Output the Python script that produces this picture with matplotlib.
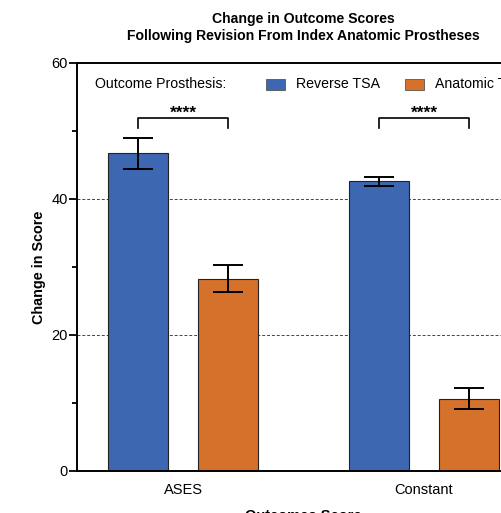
import matplotlib
matplotlib.use("Agg")
import matplotlib.pyplot as plt
from matplotlib.patches import Rectangle

plt.rcParams['font.family'] = ['Liberation Sans', 'DejaVu Sans']

# Data
scores = ["ASES", "Constant"]
series = ["Reverse TSA", "Anatomic TSA"]
reverse_mean = [46.7, 42.6]
reverse_err = [2.3, 0.65]
anatomic_mean = [28.3, 10.6]
anatomic_err = [2.0, 1.55]
significance = ["****", "****"]
yticks = [0, 20, 40, 60]

blue = "#3D67B1"
orange = "#D6712C"

W, H = 502, 513
fig = plt.figure(figsize=(W / 100, H / 100), dpi=100)

def fx(x):
    return x / W

def fy(y):
    return 1 - y / H

ax_left, ax_right, ax_top, ax_bottom = 77, 530, 63, 471
ax = fig.add_axes([fx(ax_left), fy(ax_bottom), (ax_right - ax_left) / W,
                   (ax_bottom - ax_top) / H])

xpos = [0, 1]
width = 0.249
offset = 0.187
xl = [x - offset for x in xpos]
xr = [x + offset for x in xpos]

ax.bar(xl, reverse_mean, width, color=blue, edgecolor="#222222", linewidth=0.8, zorder=2)
ax.bar(xr, anatomic_mean, width, color=orange, edgecolor="#222222", linewidth=0.8, zorder=2)
ax.errorbar(xl, reverse_mean, yerr=reverse_err, fmt="none", ecolor="black",
            elinewidth=1.4, capsize=11, capthick=1.4, zorder=3)
ax.errorbar(xr, anatomic_mean, yerr=anatomic_err, fmt="none", ecolor="black",
            elinewidth=1.4, capsize=11, capthick=1.4, zorder=3)

# significance brackets
for a, b, s in zip(xl, xr, significance):
    ax.plot([a, a, b, b], [50.5, 51.9, 51.9, 50.5], color="black", lw=1.2, zorder=3)
    ax.text((a + b) / 2, 51.9, s, ha="center", va="baseline", fontsize=12.5,
            fontweight="bold")

ax.set_ylim(0, 60)
ax.set_xlim(-0.44, 1.44)
ax.set_yticks(yticks)
ax.set_yticks([10, 30, 50], minor=True)
ax.set_xticks(xpos)
ax.set_xticklabels(scores, fontsize=10.5)
ax.tick_params(axis="x", length=0, pad=9)
ax.tick_params(axis="y", which="major", length=6, width=1.3, labelsize=10.5, pad=0.5)
ax.tick_params(axis="y", which="minor", length=3.5, width=1.3)

for y in [20, 40]:
    ax.axhline(y, color="#444444", lw=0.7, ls=(0, (3, 2)), zorder=1)

for side in ["left", "bottom", "top"]:
    ax.spines[side].set_linewidth(1.4)
ax.spines["right"].set_visible(False)

ax.set_ylabel("Change in Score", fontsize=10.4, fontweight="bold", labelpad=4)
ax.set_xlabel("Outcomes Score", fontsize=10.5, fontweight="bold", labelpad=8)

fig.suptitle("Change in Outcome Scores\nFollowing Revision From Index Anatomic Prostheses",
             x=fx(303), y=fy(12), ha="center", va="top", fontsize=10.1,
             fontweight="bold", linespacing=1.3)

# legend row
fig.text(fx(95), fy(84.5), "Outcome Prosthesis:", fontsize=10.2, va="center", ha="left")
for px0, col, label in [(266, blue, series[0]), (405, orange, series[1])]:
    fig.patches.append(Rectangle((fx(px0), fy(90)), 19 / W, 11 / H,
                                 transform=fig.transFigure, facecolor=col,
                                 edgecolor="#555555", linewidth=0.6))
    fig.text(fx(px0 + 30), fy(84.5), label, fontsize=10.2, va="center", ha="left")

fig.savefig("out.png", dpi=100)
